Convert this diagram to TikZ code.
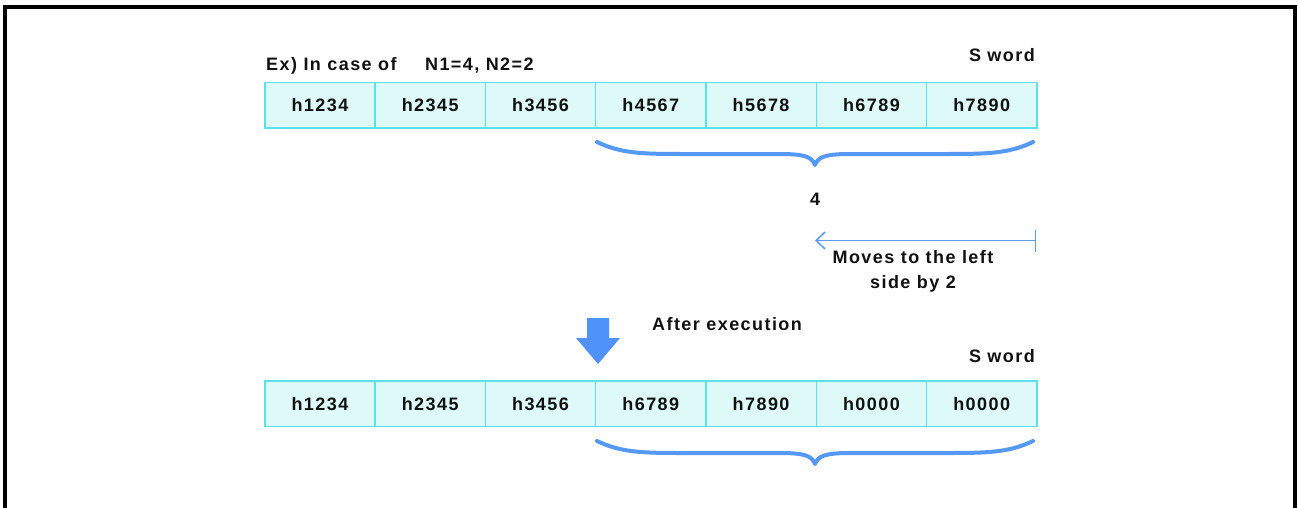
\documentclass[tikz,border=0pt]{standalone}
\usepackage{fontspec}
\setmainfont{Liberation Sans}[LetterSpace=8]
\usetikzlibrary{arrows.meta}
\definecolor{cellfill}{HTML}{DDFAF9}
\definecolor{celledge}{HTML}{5CE0EC}
\definecolor{braceblue}{HTML}{5599F5}
\definecolor{arrowblue}{HTML}{5C9CF2}
\definecolor{blockblue}{HTML}{4F92FA}
\definecolor{txt}{HTML}{111111}
\tikzset{
  cell/.style={draw=celledge, fill=cellfill, line width=1.5pt, minimum width=110.3pt,
    minimum height=45.6pt, inner sep=0pt, anchor=north west, text=txt},
  lbl/.style={inner sep=0pt, text=txt},
  bracestyle/.style={draw=braceblue, line width=4pt, line cap=round, line join=round},
  shiftarrow/.style={draw=arrowblue, line width=1.5pt,
    {Bar[width=22pt,line width=1.5pt]}-{Straight Barb[length=9pt,width=17pt,line width=1.5pt]}},
}
\begin{document}
\begin{tikzpicture}[x=1pt,y=-1pt, font=\bfseries\fontsize{18}{25}\selectfont]
\useasboundingbox (0,0) rectangle (1298,508);
% frame (open at bottom)
\draw[line width=4pt] (4.5,508) -- (4.5,7) -- (1294.5,7) -- (1294.5,508);

% top row
\foreach \v [count=\i] in {h1234,h2345,h3456,h4567,h5678,h6789,h7890}{
  \node[cell] (t\i) at ({264+(\i-1)*110.3},81.7) {\v};
}
% bottom row
\foreach \v [count=\i] in {h1234,h2345,h3456,h6789,h7890,h0000,h0000}{
  \node[cell] (b\i) at ({264+(\i-1)*110.3},380.2) {\v};
}

% labels
\node[lbl, anchor=base west] (ex) at (266,71) {Ex) In case of\hspace{22pt} N1=4, N2=2};
\node[lbl, anchor=base east] (sw1) at (1035,62) {S word};
\node[lbl, anchor=base east] (sw2) at (1035,362) {S word};

% top brace
\draw[bracestyle] (597,142) .. controls (620,153) and (640,154) .. (680,154)
  -- (780,154) .. controls (805,154) and (812,157) .. (815,165)
  .. controls (818,157) and (825,154) .. (850,154) -- (950,154)
  .. controls (990,154) and (1010,153) .. (1033,142);
\node[lbl, anchor=base] (four) at (815,205) {4};

% shift arrow
\coordinate (arrR) at (1036,240.5);
\coordinate (arrL) at (815,240.5);
\draw[shiftarrow] (arrR) -- (arrL);
\node[lbl, anchor=north, align=center] (moves) at (913,250.5) {Moves to the left\\side by 2};

% after execution
\fill[blockblue] (587,318) -- (609,318) -- (609,338) -- (620,338) -- (598,364) -- (576,338) -- (587,338) -- cycle;
\node[lbl, anchor=base west] (after) at (652,330) {After execution};

% bottom brace
\draw[bracestyle] (597,441) .. controls (620,452) and (640,453) .. (680,453)
  -- (780,453) .. controls (805,453) and (812,456) .. (815,464)
  .. controls (818,456) and (825,453) .. (850,453) -- (950,453)
  .. controls (990,453) and (1010,452) .. (1033,441);
\end{tikzpicture}
\end{document}
